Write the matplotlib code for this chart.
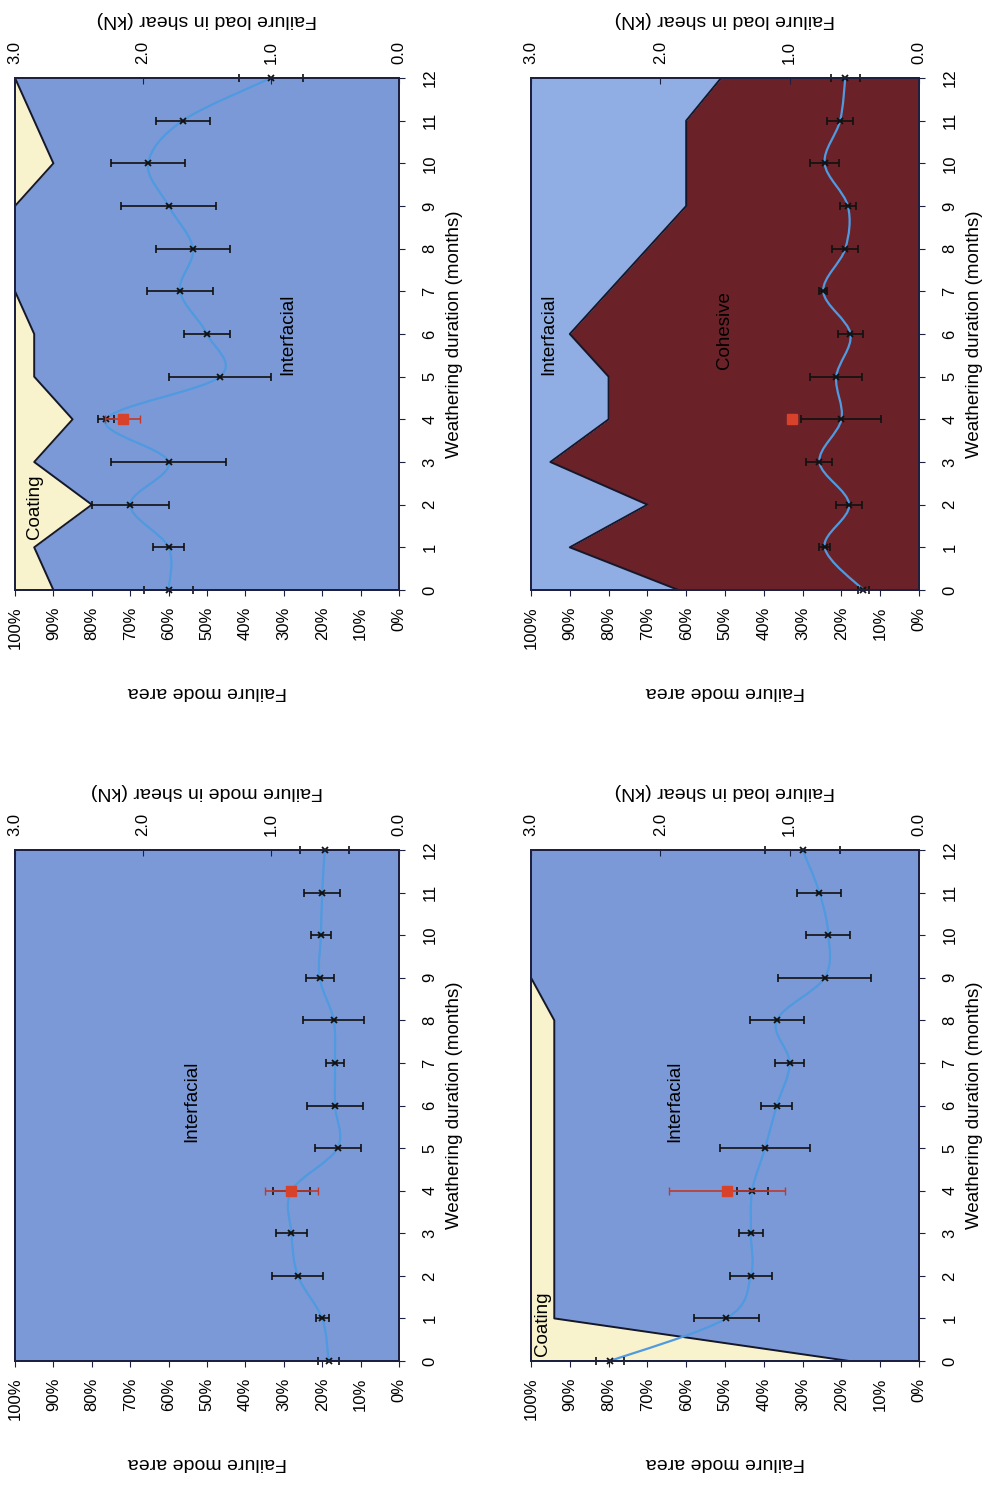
import numpy as np
import matplotlib.pyplot as plt
from matplotlib.path import Path
from matplotlib.patches import PathPatch

plt.rcParams['font.family'] = ['Liberation Sans', 'DejaVu Sans']

months = [0, 1, 2, 3, 4, 5, 6, 7, 8, 9, 10, 11, 12]
pct_ticks = [0, 10, 20, 30, 40, 50, 60, 70, 80, 90, 100]
kn_ticks = [3.0, 2.0, 1.0, 0.0]

# top left: interfacial share (coating above it)
a_interfacial = [90, 95, 80, 95, 85, 95, 95, 100, 100, 100, 90, 95, 100]
a_load = [1.80, 1.80, 2.10, 1.80, 2.29, 1.40, 1.50, 1.71, 1.61, 1.80, 1.96, 1.69, 1.00]
a_err = [0.19, 0.12, 0.30, 0.45, 0.06, 0.40, 0.18, 0.26, 0.29, 0.37, 0.29, 0.21, 0.25]
a_ref = [2.16, 0.14]

# top right: cohesive share (interfacial above it)
b_cohesive = [62, 90, 70, 95, 80, 80, 90, 80, 70, 60, 60, 60, 51]
b_load = [0.43, 0.73, 0.54, 0.77, 0.60, 0.64, 0.53, 0.74, 0.57, 0.55, 0.73, 0.61, 0.57]
b_err = [0.04, 0.04, 0.10, 0.10, 0.31, 0.20, 0.10, 0.03, 0.10, 0.06, 0.11, 0.10, 0.11]
b_ref = [0.98, 0.0]

# bottom left: all interfacial
c_interfacial = [100, 100, 100, 100, 100, 100, 100, 100, 100, 100, 100, 100, 100]
c_load = [0.55, 0.60, 0.79, 0.84, 0.84, 0.48, 0.50, 0.50, 0.51, 0.62, 0.61, 0.60, 0.58]
c_err = [0.08, 0.05, 0.20, 0.12, 0.145, 0.18, 0.22, 0.07, 0.24, 0.11, 0.08, 0.14, 0.19]
c_ref = [0.84, 0.21]

# bottom right: interfacial share (coating above it)
d_interfacial = [18, 94, 94, 94, 94, 94, 94, 94, 94, 100, 100, 100, 100]
d_load = [2.39, 1.49, 1.30, 1.30, 1.29, 1.19, 1.10, 1.00, 1.10, 0.73, 0.70, 0.77, 0.90]
d_err = [0.11, 0.25, 0.16, 0.09, 0.12, 0.35, 0.12, 0.11, 0.21, 0.36, 0.17, 0.17, 0.29]
d_ref = [1.485, 0.45]

blue = '#7b99d6'
light_blue = '#90aee3'
cream = '#f8f3cc'
maroon = '#6b2128'
edge = '#1d2040'


def smooth_path(x, y):
    pts = np.column_stack([x, y]).astype(float)
    verts = [pts[0]]
    codes = [Path.MOVETO]
    n = len(pts)
    for i in range(n - 1):
        p0 = pts[max(i - 1, 0)]
        p1 = pts[i]
        p2 = pts[i + 1]
        p3 = pts[min(i + 2, n - 1)]
        verts += [p1 + (p2 - p0) / 6, p2 - (p3 - p1) / 6, p2]
        codes += [Path.CURVE4] * 3
    return Path(verts, codes)


def panel(rect, layers, boundary, load, err, ref, texts, kn_label):
    ax = fig.add_axes(rect)
    for lo, hi, color in layers:
        ax.fill_betweenx(months, lo, hi, color=color, lw=0)
    if boundary is not None:
        ax.plot(boundary, months, color='#15172a', lw=1.4)
    ax.set_xlim(100, 0)
    ax.set_ylim(0, 12)
    ax.set_xticks(pct_ticks)
    ax.set_xticklabels([f'{v}%' for v in pct_ticks], rotation=90, fontsize=12)
    ax.yaxis.tick_right()
    ax.yaxis.set_label_position('right')
    ax.set_yticks(months)
    ax.set_yticklabels([str(m) for m in months], rotation=90, fontsize=12)
    for lab in ax.get_yticklabels():
        lab.set_va('center')
    ax.tick_params(axis='x', direction='out', length=4, pad=8, color=edge)
    ax.tick_params(axis='y', direction='out', length=4, pad=13, color=edge)
    ax.set_xlabel('Failure mode area', rotation=180, labelpad=24, fontsize=14)
    ax.set_ylabel('Weathering duration (months)', rotation=90, labelpad=6, fontsize=13.5)
    for sp in ax.spines.values():
        sp.set_color(edge)
        sp.set_linewidth(1.4)
    for x, y, s in texts:
        ax.text(x, y, s, rotation=90, ha='center', va='center', fontsize=13.5)

    ax2 = ax.twiny()
    ax2.set_xlim(3.0, 0.0)
    ax2.set_xticks(kn_ticks)
    ax2.set_xticklabels([f'{v:.1f}' for v in kn_ticks], rotation=90, fontsize=12)
    ax2.tick_params(axis='x', direction='in', length=4, pad=10, color=edge)
    ax2.set_xlabel(kn_label, rotation=180, labelpad=12, fontsize=14)
    for sp in ax2.spines.values():
        sp.set_color(edge)
        sp.set_linewidth(1.4)
    ax2.add_patch(PathPatch(smooth_path(load, months), fill=False,
                            edgecolor='#4f9ae0', lw=1.6))
    ax2.errorbar(load, months, xerr=err, fmt='none', ecolor='#111111',
                 elinewidth=1.2, capsize=3, capthick=1.2, clip_on=False)
    ax2.plot(load, months, 'x', color='#111111', ms=5, mew=1.3, clip_on=False)
    ax2.errorbar([ref[0]], [4], xerr=[ref[1]], fmt='s', color='#d8412a', ms=7,
                 ecolor='#c0392b', elinewidth=1.2, capsize=3)
    return ax


fig = plt.figure(figsize=(9.86, 14.85), dpi=100)

left_l, width_l = 15 / 986, 384 / 986
left_r, width_r = 531 / 986, 388 / 986
top_b, top_h = (1485 - 590) / 1485, 512 / 1485
bot_b, bot_h = (1485 - 1361) / 1485, 511 / 1485

panel([left_l, top_b, width_l, top_h],
      [(0, a_interfacial, blue), (a_interfacial, 100, cream)], a_interfacial,
      a_load, a_err, a_ref,
      [(95, 1.95, 'Coating'), (29, 6.0, 'Interfacial')],
      'Failure load in shear (kN)')

panel([left_r, top_b, width_r, top_h],
      [(0, b_cohesive, maroon), (b_cohesive, 100, light_blue)], b_cohesive,
      b_load, b_err, b_ref,
      [(95.5, 6.0, 'Interfacial'), (50, 6.1, 'Cohesive')],
      'Failure load in shear (kN)')

panel([left_l, bot_b, width_l, bot_h],
      [(0, c_interfacial, blue)], None,
      c_load, c_err, c_ref,
      [(54, 6.1, 'Interfacial')],
      'Failure mode in shear (kN)')

panel([left_r, bot_b, width_r, bot_h],
      [(0, d_interfacial, blue), (d_interfacial, 100, cream)], d_interfacial,
      d_load, d_err, d_ref,
      [(63, 6.1, 'Interfacial'), (97, 0.87, 'Coating')],
      'Failure load in shear (kN)')

fig.savefig('out.png', dpi=100)
